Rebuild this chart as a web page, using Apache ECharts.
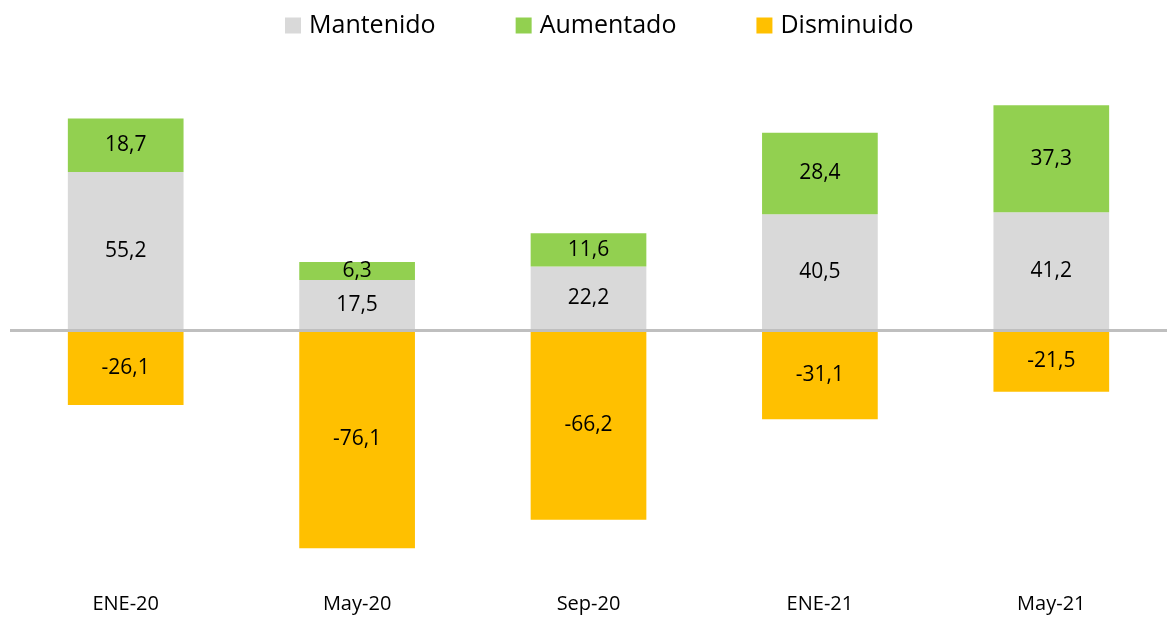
<!DOCTYPE html>
<html>
<head>
<meta charset="utf-8">
<title>Mantenido / Aumentado / Disminuido</title>
<script src="https://cdn.jsdelivr.net/npm/echarts@6/dist/echarts.min.js"></script>
<style>
  html, body { margin: 0; padding: 0; background: #fff; }
  #chart { width: 1167px; height: 619px; }
</style>
</head>
<body>
<div id="chart"></div>
<script>
const categories = ['ENE-20', 'May-20', 'Sep-20', 'ENE-21', 'May-21']
const mantenido = [55.2, 17.5, 22.2, 40.5, 41.2]
const aumentado = [18.7, 6.3, 11.6, 28.4, 37.3]
const disminuido = [-26.1, -76.1, -66.2, -31.1, -21.5]

const fontFamily = '"Open Sans", sans-serif'

const chart = echarts.init(document.getElementById('chart'))

const barLabel = {
  show: true,
  position: 'inside',
  color: '#000',
  fontSize: 21,
  fontFamily: fontFamily,
  formatter: (p) => p.value.toFixed(1).replace('.', ',')
}

const makeSeries = (name, data, color) => ({
  name: name,
  type: 'bar',
  stack: 'total',
  data: data,
  barWidth: '50%',
  itemStyle: { color: color },
  label: barLabel,
  emphasis: { disabled: true }
})

const series = [
  makeSeries('Mantenido', mantenido, '#d9d9d9'),
  makeSeries('Aumentado', aumentado, '#92d050'),
  makeSeries('Disminuido', disminuido, '#ffc000')
]

// zero line drawn over the bars
series[0].markLine = {
  silent: true,
  symbol: 'none',
  label: { show: false },
  lineStyle: { color: '#bfbfbf', width: 3, type: 'solid' },
  data: [{ yAxis: 0 }]
}

const option = {
  animation: false,
  backgroundColor: '#fff',
  legend: {
    top: 8,
    left: 280,
    itemGap: 80,
    itemWidth: 16,
    itemHeight: 16,
    icon: 'rect',
    data: ['Mantenido', 'Aumentado', 'Disminuido'],
    textStyle: {
      fontSize: 25,
      color: '#000',
      fontFamily: fontFamily,
      padding: [0, 0, 0, 3]
    }
  },
  grid: {
    left: 10,
    right: 0,
    top: 101,
    height: 487,
    containLabel: false
  },
  xAxis: {
    type: 'category',
    data: categories,
    axisLine: { show: false, onZero: false },
    axisTick: { show: false },
    axisLabel: {
      margin: 6,
      fontSize: 20,
      color: '#000',
      fontFamily: fontFamily
    }
  },
  yAxis: {
    type: 'value',
    min: -90,
    max: 80,
    show: false,
    splitLine: { show: false }
  },
  series: series
}

chart.setOption(option)
</script>
</body>
</html>
